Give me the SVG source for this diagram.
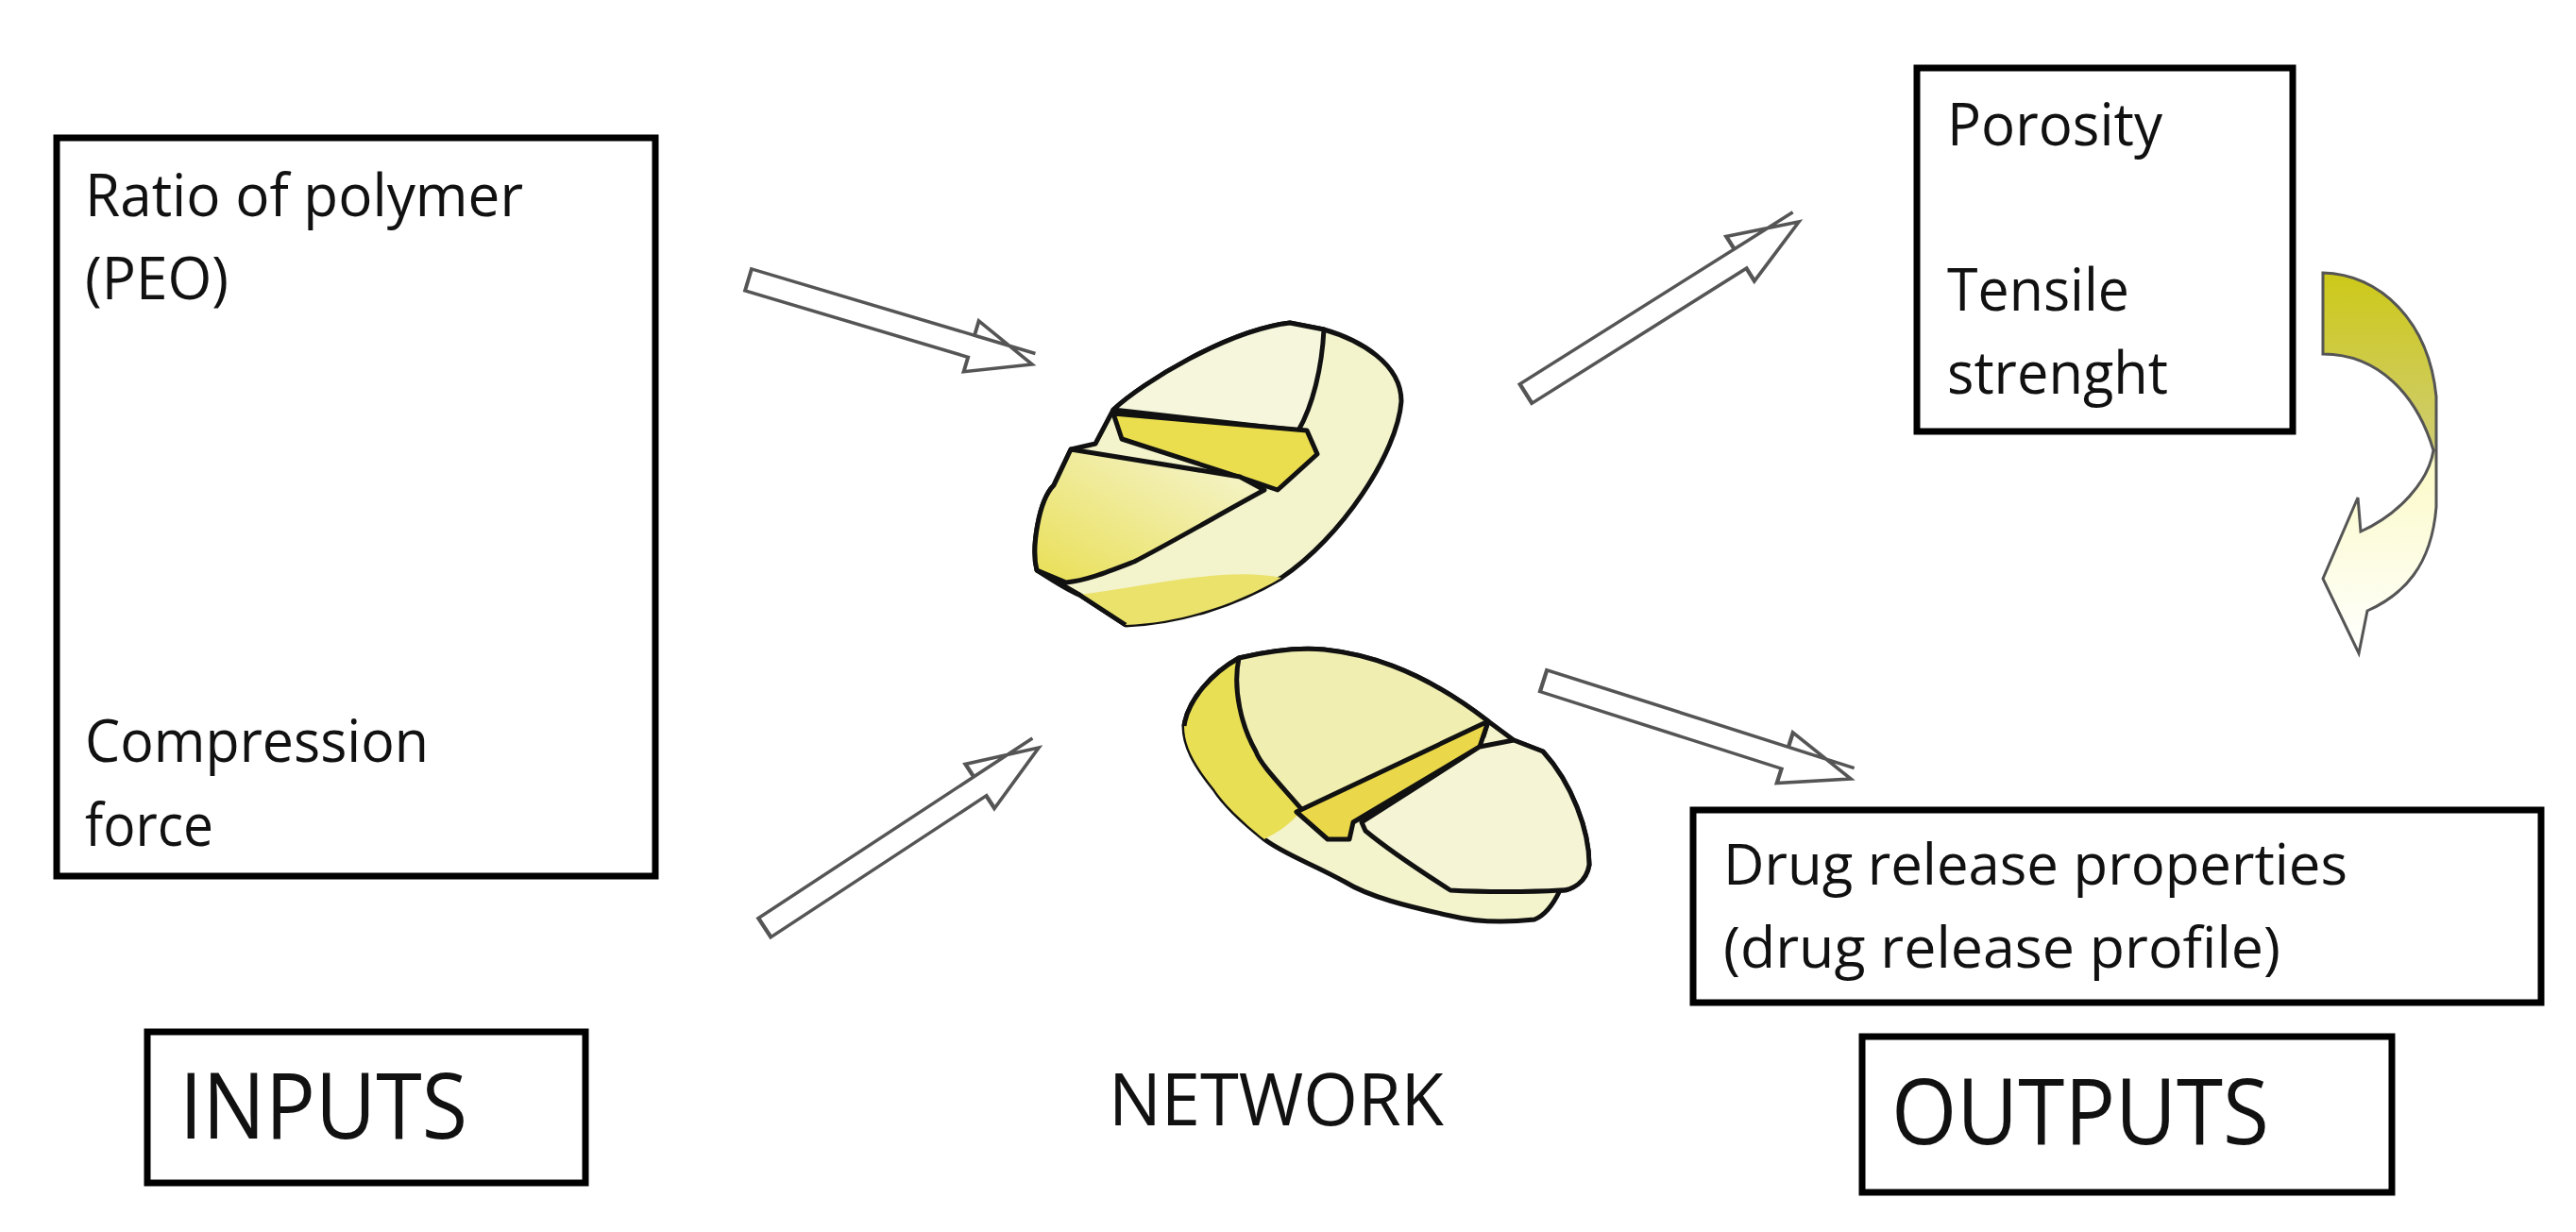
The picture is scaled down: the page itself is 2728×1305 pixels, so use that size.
<svg xmlns="http://www.w3.org/2000/svg" width="2728" height="1305" viewBox="0 0 2728 1305">
<defs>
<style>
.box{fill:#fff;stroke:#000;stroke-width:7}
.t{font-family:"Open Sans","Liberation Sans",sans-serif;fill:#111}
.ha{fill:#fff;stroke:#555;stroke-width:3.5;stroke-linejoin:miter}
.tab{stroke:#111;stroke-width:5;stroke-linejoin:round}
</style>
<linearGradient id="cg" x1="0" y1="0" x2="0" y2="1">
<stop offset="0" stop-color="#cdc918"/>
<stop offset="0.45" stop-color="#cfcc70"/>
<stop offset="0.5" stop-color="#fbfac8"/>
<stop offset="1" stop-color="#ffffff"/>
</linearGradient>
<linearGradient id="yg" x1="0" y1="1" x2="1" y2="0">
<stop offset="0" stop-color="#e9df55"/>
<stop offset="1" stop-color="#f6f6d8"/>
</linearGradient>
<path id="ar" d="M0,-12 L-60,-12 L-60,-28 L0,0 L-60,28 L-60,12 L-280,12 L-280,-12 Z"/>
</defs>
<rect width="2728" height="1305" fill="#fff"/>

<g id="inputs-box">
<rect class="box" x="60" y="146" width="634" height="782"/>
<text class="t" x="90" y="229" font-size="62" textLength="464" lengthAdjust="spacingAndGlyphs">Ratio of polymer</text>
<text class="t" x="90" y="317" font-size="62" textLength="152" lengthAdjust="spacingAndGlyphs">(PEO)</text>
<text class="t" x="90" y="807" font-size="62" textLength="364" lengthAdjust="spacingAndGlyphs">Compression</text>
<text class="t" x="90" y="896" font-size="62" textLength="136" lengthAdjust="spacingAndGlyphs">force</text>
</g>
<g id="inputs-label">
<rect class="box" x="156" y="1093" width="464" height="160"/>
<text class="t" x="190" y="1206" font-size="97" textLength="305" lengthAdjust="spacingAndGlyphs">INPUTS</text>
</g>
<g id="network-label">
<text class="t" x="1174" y="1192" font-size="76" textLength="355" lengthAdjust="spacingAndGlyphs">NETWORK</text>
</g>
<g id="porosity-box">
<rect class="box" x="2030" y="72" width="398" height="385"/>
<text class="t" x="2062" y="154" font-size="62" textLength="228" lengthAdjust="spacingAndGlyphs">Porosity</text>
<text class="t" x="2062" y="329" font-size="62" textLength="193" lengthAdjust="spacingAndGlyphs">Tensile</text>
<text class="t" x="2062" y="417" font-size="62" textLength="234" lengthAdjust="spacingAndGlyphs">strenght</text>
</g>
<g id="drug-box">
<rect class="box" x="1793" y="858" width="898" height="204"/>
<text class="t" x="1825" y="937" font-size="60" textLength="661" lengthAdjust="spacingAndGlyphs">Drug release properties</text>
<text class="t" x="1825" y="1025" font-size="60" textLength="590" lengthAdjust="spacingAndGlyphs">(drug release profile)</text>
</g>
<g id="outputs-label">
<rect class="box" x="1972" y="1098" width="561" height="165"/>
<text class="t" x="2003" y="1212" font-size="97" textLength="400" lengthAdjust="spacingAndGlyphs">OUTPUTS</text>
</g>

<g id="tablet-top">
<path class="tab" fill="#f3f3cc" d="M1179,434 C1210,405 1300,350 1366,342 L1402,349 C1440,360 1484,385 1484,425 C1480,480 1420,570 1357,612 C1310,640 1250,660 1192,662 L1143,630 L1098,604 C1092,580 1100,530 1116,514 L1134,476 L1160,470 Z"/>
<path fill="#eae26a" d="M1143,630 L1192,662 C1250,660 1310,640 1357,612 C1300,600 1220,620 1143,630 Z"/>
<path class="tab" fill="#f6f6dc" d="M1179,434 C1210,405 1300,350 1366,342 L1402,349 C1400,390 1390,430 1375,456 Z"/>
<path class="tab" fill="#ebde4e" d="M1179,438 L1384,456 L1395,481 L1353,519 L1321,508 L1188,465 Z"/>
<path class="tab" fill="url(#yg)" d="M1134,476 L1313,505 L1339,519 C1300,540 1240,575 1201,595 C1170,607 1150,615 1129,617 L1098,604 C1092,580 1100,530 1116,514 Z"/>
<path class="tab" fill="none" d="M1098,604 C1115,615 1130,625 1143,630 L1192,662"/>
</g>
<g id="tablet-bottom">
<path class="tab" fill="#f3f3cc" d="M1312,697 C1350,688 1380,686 1402,688 C1440,692 1500,705 1576,764 L1603,784 L1634,796 C1665,830 1683,880 1683,916 C1680,935 1660,945 1652,943 C1645,958 1635,970 1625,974 C1590,978 1560,976 1536,970 C1490,960 1450,950 1424,934 C1390,915 1360,905 1339,889 C1315,870 1295,850 1286,836 C1265,810 1254,790 1254,769 C1258,740 1285,712 1312,697 Z"/>
<path fill="#e9df55" d="M1254,769 C1258,740 1285,712 1312,697 C1305,740 1315,775 1330,796 L1379,858 C1360,880 1345,885 1339,889 C1315,870 1295,850 1286,836 C1265,810 1254,790 1254,769 Z"/>
<path class="tab" fill="none" d="M1254,769 C1258,740 1285,712 1312,697"/>
<path class="tab" fill="#f0eeb0" d="M1312,697 C1350,688 1380,686 1402,688 C1440,692 1500,705 1576,764 L1571,780 L1379,858 C1355,830 1335,810 1330,796 C1315,770 1305,730 1312,697 Z"/>
<path class="tab" fill="#ebd84a" d="M1373,860 L1576,764 L1567,791 L1433,871 L1429,889 L1406,889 Z"/>
<path class="tab" fill="#f5f5d6" d="M1603,784 L1634,796 C1665,830 1683,880 1683,916 C1680,935 1665,943 1652,943 C1620,945 1570,945 1536,943 C1500,920 1470,900 1446,880 L1442,871 L1567,791 Z"/>
</g>

<g id="connectors">
<use href="#ar" class="ha" transform="translate(1093,386) rotate(16.6) scale(1.12,1)"/>
<use href="#ar" class="ha" transform="translate(1100,792) rotate(-33.3) scale(1.24,1)"/>
<use href="#ar" class="ha" transform="translate(1905,235) rotate(-32.2) scale(1.22,1)"/>
<use href="#ar" class="ha" transform="translate(1960,825) rotate(17.7) scale(1.22,1)"/>
<path fill="url(#cg)" stroke="#555" stroke-width="3" d="M2460,289 C2520,290 2572,340 2580,420 L2580,537 C2575,600 2545,630 2507,647 L2498,692 L2460,613 L2497,527 L2500,563 C2540,545 2572,510 2577,477 C2560,420 2520,375 2460,375 Z"/>
</g>
</svg>
